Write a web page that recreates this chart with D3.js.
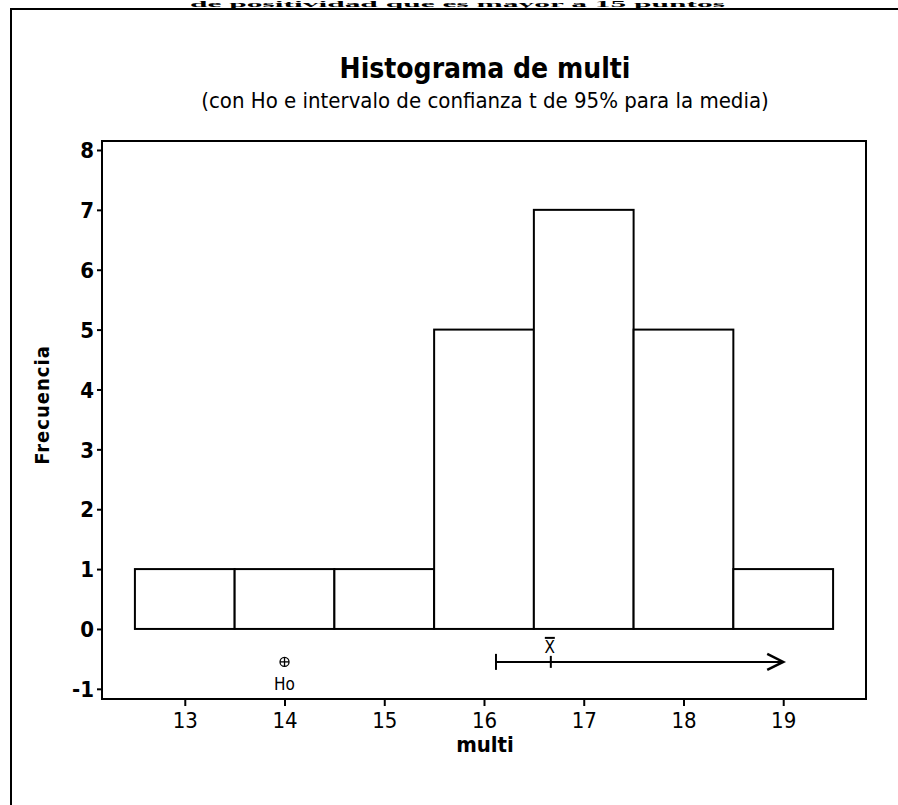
<!DOCTYPE html>
<html>
<head>
<meta charset="utf-8">
<script src="https://cdn.jsdelivr.net/npm/d3@7"></script>
<style>
  html, body { margin: 0; padding: 0; background: #fff; }
  svg { display: block; }
  text { font-family: "DejaVu Sans Condensed", "DejaVu Sans", sans-serif; fill: #000; }
</style>
</head>
<body>
<svg id="chart" width="898" height="805"></svg>
<script>
// Histogram of "multi" with Ho and one-sided 95% t interval for the mean
const binMids   = [13, 14, 15, 16, 17, 18, 19];
const binCounts = [1, 1, 1, 5, 7, 5, 1];
const xTicks    = [13, 14, 15, 16, 17, 18, 19];
const yTicks    = [-1, 0, 1, 2, 3, 4, 5, 6, 7, 8];
const hoValue   = 14;
const ciLower   = 16.12;
const meanValue = 16.67;
const ciArrowEnd = 19;
const ciLevel   = -0.55;

const svg = d3.select("#chart");
const W = 898, H = 805;
const m = { left: 102, right: 866, top: 141, bottom: 699 };

svg.append("rect").attr("width", W).attr("height", H).attr("fill", "#fff");

// page heading above the frame
svg.append("text")
  .attr("x", 190).attr("y", 7)
  .attr("textLength", 535).attr("lengthAdjust", "spacingAndGlyphs")
  .style("font-family", "'Liberation Serif', serif")
  .style("font-weight", "bold").style("font-size", "9px")
  .text("de positividad que es mayor a 15 puntos");

// outer frame
svg.append("rect")
  .attr("x", 11).attr("y", 9)
  .attr("width", W).attr("height", H)
  .attr("fill", "none").attr("stroke", "#000").attr("stroke-width", 2);

const x = d3.scaleLinear().domain([12.17, 19.83]).range([m.left, m.right]);
const y = d3.scaleLinear().domain([-1.17, 8.15]).range([m.bottom, m.top]);

// titles
svg.append("text").attr("x", 485).attr("y", 78)
  .attr("text-anchor", "middle")
  .style("font-weight", "bold").style("font-size", "28px")
  .text("Histograma de multi");
svg.append("text").attr("x", 485).attr("y", 108)
  .attr("text-anchor", "middle")
  .style("font-size", "22px")
  .text("(con Ho e intervalo de confianza t de 95% para la media)");

// bars
const bw = 1;
svg.append("g").selectAll("rect").data(binMids).join("rect")
  .attr("x", (d) => x(d - bw / 2))
  .attr("y", (d, i) => y(binCounts[i]))
  .attr("width", x(bw) - x(0))
  .attr("height", (d, i) => y(0) - y(binCounts[i]))
  .attr("fill", "#fff").attr("stroke", "#000").attr("stroke-width", 2);

// plot frame
svg.append("rect")
  .attr("x", m.left).attr("y", m.top)
  .attr("width", m.right - m.left).attr("height", m.bottom - m.top)
  .attr("fill", "none").attr("stroke", "#000").attr("stroke-width", 2);

// axes
const hyphenInt = (d) => String(d);
const xAxis = d3.axisBottom(x).tickValues(xTicks).tickFormat(hyphenInt).tickSize(7).tickPadding(6);
const yAxis = d3.axisLeft(y).tickValues(yTicks).tickFormat(hyphenInt).tickSize(5).tickPadding(3);

const gx = svg.append("g").attr("transform", `translate(0,${m.bottom})`).call(xAxis);
gx.select(".domain").remove();
gx.selectAll("line").attr("stroke", "#000").attr("stroke-width", 2);
gx.selectAll("text").style("font-size", "22px")
  .style("font-family", "'DejaVu Sans Condensed', sans-serif");

const gy = svg.append("g").attr("transform", `translate(${m.left},0)`).call(yAxis);
gy.select(".domain").remove();
gy.selectAll("line").attr("stroke", "#000").attr("stroke-width", 2);
gy.selectAll("text").style("font-size", "22px").style("font-weight", "bold")
  .attr("dy", "0.35em");

// axis labels
svg.append("text").attr("x", 485).attr("y", 752)
  .attr("text-anchor", "middle")
  .style("font-weight", "bold").style("font-size", "22px")
  .text("multi");
svg.append("text")
  .attr("transform", "translate(49,405) rotate(-90)")
  .attr("text-anchor", "middle")
  .style("font-weight", "bold").style("font-size", "20px")
  .style("letter-spacing", "1px")
  .text("Frecuencia");

// Ho marker
const hy = y(ciLevel);
const hx = x(hoValue);
svg.append("circle").attr("cx", hx).attr("cy", hy).attr("r", 4.5)
  .attr("fill", "none").attr("stroke", "#000").attr("stroke-width", 1.3);
svg.append("line").attr("x1", hx - 4.5).attr("x2", hx + 4.5).attr("y1", hy).attr("y2", hy)
  .attr("stroke", "#000").attr("stroke-width", 1.3);
svg.append("line").attr("x1", hx).attr("x2", hx).attr("y1", hy - 4.5).attr("y2", hy + 4.5)
  .attr("stroke", "#000").attr("stroke-width", 1.3);
svg.append("text").attr("x", hx).attr("y", hy + 28)
  .attr("text-anchor", "middle").style("font-size", "17px").text("Ho");

// confidence interval for the mean (one-sided, upper bound open)
const ci = svg.append("g").attr("stroke", "#000").attr("stroke-width", 2).attr("fill", "none");
ci.append("line").attr("x1", x(ciLower)).attr("x2", x(ciArrowEnd)).attr("y1", hy).attr("y2", hy);
ci.append("line").attr("x1", x(ciLower)).attr("x2", x(ciLower)).attr("y1", hy - 8).attr("y2", hy + 8);
ci.append("line").attr("x1", x(meanValue)).attr("x2", x(meanValue)).attr("y1", hy - 6).attr("y2", hy + 6);
ci.append("path")
  .attr("d", `M${x(ciArrowEnd) - 16},${hy - 8} L${x(ciArrowEnd)},${hy} L${x(ciArrowEnd) - 16},${hy + 8}`)
  .attr("stroke-width", 2.5);
svg.append("text").attr("x", x(meanValue) - 1).attr("y", hy - 9)
  .attr("text-anchor", "middle").style("font-size", "17px").text("X");
svg.append("line")
  .attr("x1", x(meanValue) - 6).attr("x2", x(meanValue) + 4)
  .attr("y1", hy - 24).attr("y2", hy - 24)
  .attr("stroke", "#000").attr("stroke-width", 2);
</script>
</body>
</html>
